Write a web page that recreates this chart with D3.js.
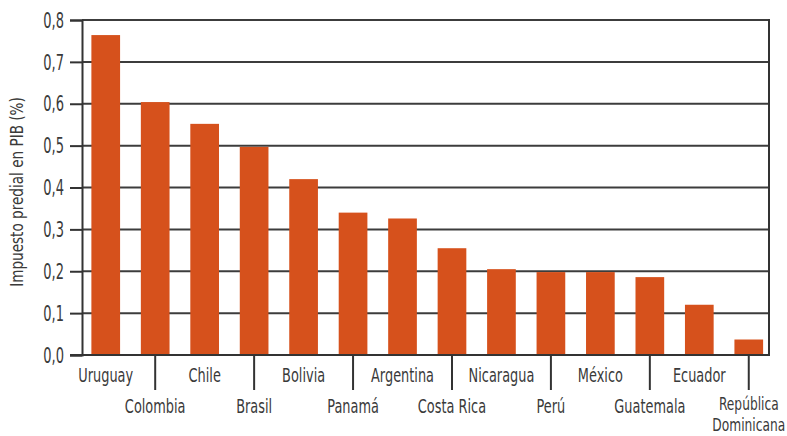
<!DOCTYPE html>
<html>
<head>
<meta charset="utf-8">
<script src="https://cdn.jsdelivr.net/npm/d3@7"></script>
<style>
  html, body { margin: 0; padding: 0; background: #ffffff; }
  svg { display: block; }
  text { font-family: "DejaVu Sans", sans-serif; fill: #3a3a3a; }
</style>
</head>
<body>
<svg id="chart" width="787" height="436"></svg>
<script>
const categories = ["Uruguay", "Colombia", "Chile", "Brasil", "Bolivia", "Panamá", "Argentina",
  "Costa Rica", "Nicaragua", "Perú", "México", "Guatemala", "Ecuador", "República Dominicana"];
const values = [0.764, 0.604, 0.552, 0.497, 0.420, 0.340, 0.326, 0.255, 0.205, 0.198, 0.198, 0.186, 0.120, 0.037];
const yTicks = [0, 0.1, 0.2, 0.3, 0.4, 0.5, 0.6, 0.7, 0.8];
const yTitle = "Impuesto predial en PIB (%)";

const svg = d3.select("#chart");
const mLeft = 82, mRight = 769, mTop = 20, mBottom = 355;
const condense = 0.68;

const x = d3.scaleBand().domain(categories).range([81, 773.5]).paddingInner(0.42).paddingOuter(0.21);
const y = d3.scaleLinear().domain([0, 0.8]).range([mBottom, mTop]);
const fmt = d => d3.format(".1f")(d).replace(".", ",");

// gridlines
svg.append("g").selectAll("line").data(yTicks.filter(d => d > 0)).join("line")
  .attr("x1", mLeft).attr("x2", mRight)
  .attr("y1", d => y(d)).attr("y2", d => y(d))
  .attr("stroke", "#3c3c3c").attr("stroke-width", 2);

// bars
svg.append("g").selectAll("rect").data(categories).join("rect")
  .attr("x", d => x(d)).attr("width", x.bandwidth())
  .attr("y", (d, i) => y(values[i])).attr("height", (d, i) => y(0) - y(values[i]))
  .attr("fill", "#d6511c");

// y axis
const yAxis = d3.axisLeft(y).tickValues(yTicks).tickFormat(fmt).tickSize(12).tickPadding(6);
const gy = svg.append("g").attr("transform", `translate(${mLeft},0)`).call(yAxis);
gy.attr("font-family", null).attr("font-size", null);
gy.select(".domain").attr("stroke", "#333").attr("stroke-width", 2);
gy.selectAll(".tick line").attr("stroke", "#333").attr("stroke-width", 2);
gy.selectAll(".tick text")
  .attr("font-size", 21).attr("fill", "#3a3a3a")
  .attr("x", null).attr("dy", null)
  .attr("dominant-baseline", "central")
  .attr("transform", "translate(-18,0) scale(0.62,1)");

// frame right + bottom
svg.append("line").attr("x1", mRight).attr("x2", mRight).attr("y1", mTop - 1).attr("y2", mBottom + 1)
  .attr("stroke", "#333").attr("stroke-width", 2);
svg.append("line").attr("x1", mLeft - 12).attr("x2", mRight + 1).attr("y1", mBottom).attr("y2", mBottom)
  .attr("stroke", "#333").attr("stroke-width", 2);

// x separators under odd categories
svg.append("g").selectAll("line").data(categories.filter((d, i) => i % 2 === 1)).join("line")
  .attr("x1", d => x(d) + x.bandwidth() / 2).attr("x2", d => x(d) + x.bandwidth() / 2)
  .attr("y1", mBottom).attr("y2", mBottom + 35)
  .attr("stroke", "#333").attr("stroke-width", 2);

// x labels
const xl = svg.append("g").selectAll("text").data(categories).join("text")
  .attr("text-anchor", "middle")
  .attr("font-size", (d, i) => i === categories.length - 1 ? 18 : 19)
  .attr("transform", (d, i) => {
    const row = i % 2 === 0 ? 382 : (i === categories.length - 1 ? 410 : 413);
    return `translate(${x(d) + x.bandwidth() / 2},${row}) scale(${condense},1)`;
  });
xl.each(function(d) {
  const parts = d === "República Dominicana" ? ["República", "Dominicana"] : [d];
  const t = d3.select(this);
  parts.forEach((p, k) => {
    t.append("tspan").attr("x", 0).attr("dy", k === 0 ? 0 : 21).text(p);
  });
});

// y title
svg.append("text")
  .attr("transform", `translate(23,192) rotate(-90) scale(0.8,1)`)
  .attr("text-anchor", "middle")
  .attr("font-size", 17)
  .text(yTitle);
</script>
</body>
</html>
